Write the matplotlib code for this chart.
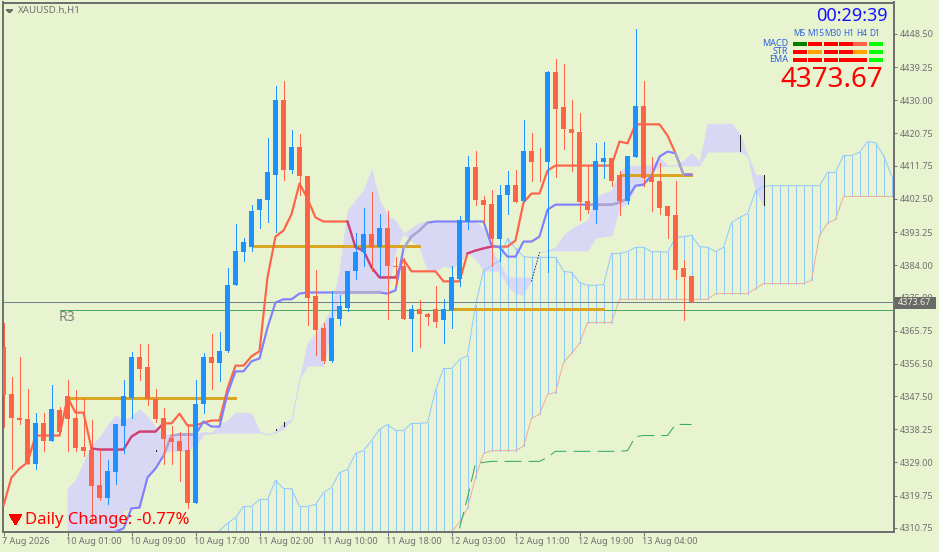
import numpy as np
import matplotlib
matplotlib.use('Agg')
import matplotlib.pyplot as plt
from matplotlib.patches import Rectangle, Polygon
from matplotlib.transforms import ScaledTranslation

W, H = 939, 552

# candles, one hour each
opens = [4361.3, 4348.2, 4341.5, 4341.0, 4328.7, 4340.1, 4335.1, 4343.5, 4347.4, 4341.3,
         4333.2, 4332.6, 4322.6, 4319.2, 4326.2, 4339.3, 4347.1, 4358.3, 4355.5, 4346.6,
         4341.3, 4335.7, 4334.9, 4332.6, 4317.6, 4345.2, 4358.3, 4356.6, 4360.0, 4378.4,
         4387.8, 4389.2, 4399.3, 4402.3, 4409.3, 4430.0, 4410.7, 4417.1, 4409.0, 4375.3,
         4366.4, 4357.4, 4368.9, 4372.2, 4382.3, 4387.6, 4392.6, 4389.2, 4394.3, 4383.9,
         4383.7, 4368.9, 4371.7, 4370.5, 4371.9, 4368.6, 4371.4, 4380.3, 4396.2, 4411.5,
         4402.3, 4401.2, 4391.2, 4403.5, 4406.5, 4401.8, 4416.0, 4412.9, 4412.7, 4437.8,
         4428.0, 4422.1, 4421.3, 4401.8, 4399.3, 4412.9, 4413.8, 4409.3, 4401.8, 4414.3,
         4428.3, 4408.5, 4407.4, 4400.4, 4397.9, 4383.1, 4381.1]
closes = [4347.9, 4341.3, 4340.7, 4328.7, 4340.1, 4335.1, 4343.8, 4337.4, 4341.0, 4332.9,
          4332.1, 4322.3, 4319.2, 4326.5, 4339.6, 4347.4, 4358.3, 4355.2, 4346.6, 4341.0,
          4335.4, 4334.6, 4332.3, 4317.6, 4345.4, 4358.3, 4356.6, 4360.2, 4378.6, 4388.1,
          4390.6, 4399.0, 4402.6, 4409.9, 4430.0, 4410.7, 4417.1, 4408.8, 4375.0, 4365.8,
          4357.4, 4369.2, 4372.5, 4382.5, 4387.8, 4392.6, 4389.2, 4394.3, 4383.7, 4383.4,
          4368.9, 4371.7, 4370.3, 4369.7, 4368.3, 4371.7, 4380.6, 4396.5, 4411.5, 4402.1,
          4400.9, 4391.2, 4403.5, 4406.5, 4401.5, 4416.0, 4412.7, 4412.7, 4437.8, 4427.7,
          4421.9, 4421.0, 4401.5, 4399.3, 4413.2, 4413.8, 4407.6, 4401.8, 4414.6, 4428.3,
          4408.2, 4407.1, 4400.1, 4397.6, 4382.8, 4380.6, 4373.67]
highs = [4368.0, 4352.7, 4358.3, 4349.6, 4342.9, 4342.9, 4350.5, 4344.6, 4352.1, 4349.1,
         4347.1, 4340.7, 4332.6, 4329.8, 4339.6, 4352.1, 4359.7, 4361.9, 4361.9, 4349.6,
         4344.1, 4339.3, 4337.4, 4339.6, 4351.9, 4359.4, 4364.7, 4365.5, 4383.1, 4395.4,
         4391.7, 4400.7, 4402.6, 4419.4, 4434.1, 4435.3, 4421.6, 4420.5, 4409.0, 4382.8,
         4367.8, 4376.7, 4375.6, 4382.5, 4393.1, 4400.1, 4404.3, 4398.2, 4399.0, 4386.4,
         4385.9, 4372.8, 4374.2, 4370.8, 4378.1, 4374.7, 4383.7, 4397.6, 4414.6, 4416.0,
         4403.2, 4404.9, 4406.5, 4410.2, 4410.7, 4424.4, 4421.0, 4416.8, 4438.3, 4441.4,
         4440.0, 4430.2, 4426.6, 4411.8, 4418.0, 4418.5, 4413.8, 4410.2, 4414.6, 4450.0,
         4435.5, 4414.1, 4412.4, 4400.4, 4407.4, 4385.6, 4381.1]
lows = [4338.8, 4327.3, 4339.6, 4328.7, 4327.3, 4332.3, 4335.1, 4337.1, 4332.3, 4332.3,
        4330.7, 4312.8, 4318.4, 4317.3, 4322.9, 4331.5, 4341.5, 4351.9, 4344.9, 4340.4,
        4328.7, 4328.7, 4323.7, 4316.4, 4317.6, 4342.9, 4349.6, 4351.6, 4359.7, 4378.4,
        4385.3, 4388.1, 4394.3, 4396.2, 4393.4, 4407.9, 4409.6, 4403.5, 4367.2, 4359.1,
        4356.6, 4356.9, 4367.2, 4371.1, 4380.3, 4383.7, 4382.5, 4381.1, 4368.9, 4378.4,
        4368.9, 4360.0, 4361.1, 4367.2, 4366.9, 4362.2, 4366.4, 4378.1, 4394.0, 4400.7,
        4396.2, 4383.9, 4385.1, 4398.2, 4401.5, 4401.8, 4407.4, 4407.6, 4382.0, 4408.5,
        4416.3, 4410.4, 4396.5, 4398.7, 4395.9, 4408.2, 4406.2, 4397.9, 4401.2, 4414.3,
        4406.0, 4399.0, 4398.4, 4391.5, 4380.3, 4368.6, 4373.67]

# fast and slow lines
tenkan = [4317.0, 4324.8, 4327.3, 4329.0, 4336.5, 4336.5, 4336.5, 4336.5, 4347.1, 4342.9,
          4342.9, 4332.9, 4332.6, 4332.6, 4332.6, 4332.6, 4336.2, 4337.6, 4337.6, 4337.6,
          4339.9, 4339.9, 4342.6, 4339.3, 4339.3, 4340.1, 4340.7, 4340.7, 4349.6, 4356.0,
          4356.0, 4358.6, 4360.0, 4380.6, 4392.0, 4393.7, 4398.2, 4406.8, 4402.6, 4397.3,
          4396.2, 4396.2, 4396.2, 4396.2, 4389.0, 4388.1, 4383.4, 4380.6, 4380.6, 4380.6,
          4385.6, 4382.3, 4382.3, 4382.3, 4382.3, 4379.5, 4379.5, 4379.5, 4387.3, 4388.1,
          4388.7, 4389.2, 4389.2, 4389.2, 4390.9, 4401.5, 4404.0, 4404.0, 4410.4, 4411.8,
          4411.8, 4411.8, 4411.8, 4411.8, 4411.8, 4411.8, 4411.8, 4418.5, 4418.0, 4423.3,
          4423.3, 4423.3, 4423.3, 4420.2, 4415.2, 4409.3, 4409.3]
kijun_start = 14
kijun = [4309.7, 4310.6, 4316.2, 4316.4, 4324.8, 4327.3, 4330.9, 4336.5, 4336.8, 4336.8,
         4336.8, 4340.4, 4339.0, 4339.0, 4348.2, 4354.4, 4354.4, 4357.2, 4358.0, 4366.6,
         4373.6, 4374.5, 4374.5, 4376.1, 4376.4, 4376.4, 4376.4, 4376.4, 4376.4, 4376.4,
         4376.4, 4376.4, 4376.4, 4376.4, 4376.1, 4377.0, 4388.7, 4392.0, 4393.7, 4395.9,
         4396.2, 4396.2, 4396.2, 4396.2, 4396.2, 4396.2, 4396.2, 4389.5, 4389.0, 4386.4,
         4386.4, 4390.6, 4390.6, 4392.0, 4399.5, 4400.9, 4400.9, 4400.9, 4400.9, 4400.9,
         4400.9, 4400.9, 4400.9, 4401.5, 4402.6, 4406.2, 4406.5, 4409.0, 4414.3, 4415.7,
         4415.2, 4409.3, 4409.3]

# lavender cloud
cloud_start = 8
cloud_top = [4321.7, 4324.0, 4329.0, 4333.7, 4336.0, 4339.3, 4342.1, 4340.7, 4341.8, 4343.8,
             4341.8, 4338.8, 4336.8, 4336.8, 4336.8, 4336.8, 4336.8, 4337.6, 4337.3, 4339.6,
             4340.7, 4342.9, 4342.9, 4342.6, 4337.6, 4336.8, 4337.6, 4340.1, 4341.0, 4352.4,
             4362.2, 4365.0, 4368.0, 4371.9, 4382.5, 4399.3, 4402.1, 4404.9, 4410.7, 4402.1,
             4397.9, 4396.5, 4392.9, 4394.3, 4395.9, 4396.2, 4396.2, 4396.2, 4396.2, 4396.2,
             4396.2, 4396.2, 4394.2, 4388.1, 4384.5, 4380.6, 4380.6, 4380.6, 4380.6, 4387.6,
             4388.1, 4389.0, 4392.3, 4394.2, 4395.4, 4396.5, 4402.9, 4404.0, 4404.8, 4409.9,
             4411.8, 4411.8, 4411.8, 4411.8, 4414.1, 4411.8, 4411.8, 4413.2, 4415.2, 4412.9,
             4423.5, 4423.5, 4423.5, 4423.5, 4420.7, 4414.6, 4409.3, 4409.0]
cloud_bot = [4305.0, 4305.0, 4305.0, 4305.0, 4305.0, 4305.0, 4305.0, 4315.6, 4316.2, 4316.4,
             4324.8, 4327.6, 4331.8, 4332.3, 4332.3, 4332.3, 4333.7, 4336.8, 4337.1, 4337.3,
             4337.3, 4337.3, 4337.3, 4337.3, 4337.3, 4336.8, 4337.3, 4338.5, 4340.7, 4352.4,
             4356.0, 4356.0, 4356.0, 4367.2, 4375.6, 4376.4, 4376.4, 4376.4, 4376.4, 4376.4,
             4377.0, 4388.1, 4392.9, 4390.9, 4389.0, 4382.5, 4382.5, 4383.9, 4383.1, 4384.8,
             4387.6, 4385.9, 4382.5, 4382.5, 4382.5, 4378.4, 4376.1, 4375.8, 4380.6, 4387.6,
             4388.1, 4388.1, 4388.1, 4388.1, 4388.1, 4388.1, 4391.7, 4392.0, 4392.3, 4400.1,
             4401.5, 4406.0, 4406.2, 4410.4, 4411.5, 4411.8, 4411.8, 4411.8, 4411.8, 4411.8,
             4415.7, 4415.7, 4415.7, 4415.7, 4415.7, 4414.6, 4404.8, 4400.7]

# hatched cloud, higher timeframe
upper_start = 27
upper = [4310.0, 4312.0, 4313.6, 4316.7, 4316.7, 4318.7, 4318.7, 4324.0, 4321.7, 4321.7,
         4316.7, 4316.7, 4317.3, 4320.6, 4322.0, 4326.2, 4327.0, 4331.5, 4332.3, 4335.1,
         4338.2, 4339.6, 4337.9, 4337.9, 4339.9, 4339.9, 4340.1, 4349.1, 4355.2, 4355.2,
         4357.7, 4358.8, 4372.8, 4382.5, 4383.9, 4385.3, 4391.5, 4388.7, 4386.4, 4386.2,
         4386.2, 4386.2, 4386.2, 4382.3, 4382.0, 4379.2, 4378.4, 4378.4, 4378.6, 4387.3,
         4387.3, 4387.8, 4389.0, 4389.0, 4387.8, 4387.8, 4387.6, 4391.7, 4392.0, 4392.3,
         4389.2, 4389.0, 4387.8, 4389.0, 4395.9, 4397.3, 4398.4, 4404.6, 4406.0, 4406.2,
         4406.2, 4406.2, 4406.2, 4406.2, 4406.2, 4406.2, 4409.9, 4409.9, 4414.6, 4414.6,
         4415.5, 4418.5, 4418.2, 4414.6, 4409.0]
lower_start = 56
lower = [4309.7, 4312.3, 4316.2, 4324.8, 4331.5, 4332.3, 4332.3, 4332.3, 4332.3, 4333.5,
         4341.3, 4342.4, 4348.0, 4348.5, 4356.9, 4359.4, 4362.2, 4368.0, 4368.0, 4368.0,
         4368.0, 4374.5, 4374.5, 4374.5, 4374.5, 4374.5, 4374.5, 4374.5, 4374.5, 4374.5,
         4374.5, 4374.5, 4374.5, 4376.1, 4376.1, 4376.1, 4376.1, 4376.1, 4377.5, 4378.9,
         4378.9, 4378.9, 4378.9, 4378.9, 4378.9, 4379.8, 4392.3, 4395.7, 4396.8, 4403.2,
         4403.2, 4403.2, 4403.2, 4403.2, 4403.2, 4403.2]

# dashed green line
lagging_start = 57
lagging = [4310.6, 4319.2, 4328.7, 4329.0, 4329.3, 4329.3, 4329.3, 4329.3, 4329.3, 4329.3,
           4329.3, 4330.4, 4332.1, 4332.1, 4332.1, 4332.1, 4332.1, 4332.1, 4332.1, 4332.1,
           4332.1, 4332.3, 4336.2, 4336.5, 4336.5, 4336.5, 4336.5, 4339.6, 4339.6, 4339.6]

# gold levels: first bar, last bar, price
level_from = [8, 31, 56, 77]
level_to = [29, 52, 75, 86]
level_price = [4347.1, 4389.5, 4371.8, 4409.2]

# short dark marks: bar, price from, price to
mark_bar = [19, 20, 34, 35, 92, 95]
mark_lo = [4332.1, 4336.7, 4338.0, 4339.3, 4416.0, 4400.7]
mark_hi = [4332.4, 4337.0, 4338.3, 4340.4, 4420.2, 4409.3]
dotted_bar = [66, 67]
dotted_price = [4379.5, 4387.6]

current_price = 4373.67
r3_price = 4371.6

y_ticks = [4448.50, 4439.25, 4430.00, 4420.75, 4411.75, 4402.50, 4393.25, 4384.00,
           4375.00, 4365.75, 4356.50, 4347.50, 4338.25, 4329.00, 4319.75, 4310.75]
x_tick_bars = [0, 8, 16, 24, 32, 40, 48, 56, 64, 72, 80]
x_tick_labels = ['7 Aug 2026', '10 Aug 01:00', '10 Aug 09:00', '10 Aug 17:00', '11 Aug 02:00',
                 '11 Aug 10:00', '11 Aug 18:00', '12 Aug 03:00', '12 Aug 11:00', '12 Aug 19:00',
                 '13 Aug 04:00']

# trend panel
panel_cols = ['M5', 'M15', 'M30', 'H1', 'H4', 'D1']
panel_rows = ['MACD', 'STR', 'EMA']
panel_colors = [['#008000', '#ff0000', '#ff0000', '#ff0000', '#ff6347', '#00ff00'],
                ['#ff0000', '#ffa500', '#ff0000', '#ff0000', '#ffa500', '#00ff00'],
                ['#ff0000', '#ff0000', '#ff0000', '#ff0000', '#ff0000', '#00ff00']]

BG = '#e8f3d0'
GREY = '#707070'
BLUE = '#1e90ff'
RED = '#ff6347'
LAV = '#d8d8f5'

plt.rcParams['font.family'] = ['Noto Sans', 'DejaVu Sans']
plt.rcParams['lines.antialiased'] = False
plt.rcParams['patch.antialiased'] = False

fig = plt.figure(figsize=(W / 100, H / 100), dpi=100, facecolor=BG)
ax = fig.add_axes([3 / W, (H - 531.5) / H, 890.5 / W, 529 / H], facecolor=BG)
ax.set_xlim(-0.0625, 111.25)
ax.set_ylim(4309.74, 4457.28)


def bars(start, values):
    return np.arange(start, start + len(values))


# cloud
x = bars(cloud_start, cloud_top)
ax.fill_between(x, cloud_bot, cloud_top, color=LAV, lw=0.5, zorder=1, antialiased=True)

# hatched cloud
x = bars(upper_start, upper)
bottoms = np.full(len(upper), ax.get_ylim()[0])
bottoms[lower_start - upper_start:] = lower
ax.vlines(x, bottoms, upper, color='#90c8ff', lw=0.5, zorder=2)
ax.plot(x, upper, color='#90c8ff', lw=0.7, zorder=2, antialiased=True)
ax.plot(bars(lower_start, lower), lower, color='#eeac98', lw=0.7, zorder=2, antialiased=True)

# dashed line and levels
ax.plot(bars(lagging_start, lagging), lagging, color='#30a860', lw=0.72,
        linestyle=(0, (17, 7)), zorder=3, antialiased=True)
ax.axhline(current_price, color='#708090', lw=0.5, zorder=3)
ax.plot([7, 112], [r3_price, r3_price], color='#4aa860', lw=0.5, zorder=3)
ax.hlines(level_price, level_from, level_to, color='#daa520', lw=2.0, zorder=3)

# tenkan and kijun, the parts over the cloud come out blended in the original
x = np.arange(len(tenkan))
ax.plot(x, tenkan, color=RED, lw=1.55, zorder=4, antialiased=True)
for a, b in [(11, 20), (43, 49), (58, 61)]:
    ax.plot(x[a:b + 1], tenkan[a:b + 1], color='#c84080', lw=1.55, zorder=4, antialiased=True)
kx = bars(kijun_start, kijun)
ax.plot(kx, kijun, color='#8080ff', lw=1.55, zorder=4, antialiased=True)
for a, b in [(20, 24), (41, 47), (50, 53), (73, 78), (84, 85)]:
    s = a - kijun_start
    ax.plot(kx[s:b - kijun_start + 1], kijun[s:b - kijun_start + 1], color='#b0a8cc', lw=1.55, zorder=4,
            antialiased=True)

ax.vlines(mark_bar, mark_lo, mark_hi, color='#202020', lw=0.5, zorder=4)
ax.plot(dotted_bar, dotted_price, color='black', lw=0.6, linestyle=(0, (1.5, 2)), zorder=4, antialiased=True)

# candles
x = np.arange(len(opens))
up = np.array(closes) >= np.array(opens)
colors = [BLUE if u else RED for u in up]
ax.vlines(x, lows, highs, color=colors, lw=0.5, zorder=5)
tops = np.maximum(opens, closes)
bots = np.minimum(opens, closes)
ax.bar(x, tops - bots, bottom=bots, width=0.66, color=colors, lw=0, zorder=6)

# axes
for s in ax.spines.values():
    s.set_color(GREY)
    s.set_linewidth(1.2)
ax.yaxis.tick_right()
ax.set_yticks(y_ticks)
ax.set_yticklabels(['%.2f' % v for v in y_ticks], fontsize=6.5, color=GREY)
ax.set_xticks(x_tick_bars)
ax.set_xticklabels(x_tick_labels, fontsize=6.5, color=GREY, ha='left')
ax.tick_params(axis='y', length=2.5, width=0.7, color=GREY, pad=2)
ax.tick_params(axis='x', length=3, width=0.7, color=GREY, pad=0.8)
shift = ScaledTranslation(-1.5 / 100, 0, fig.dpi_scale_trans)
for label in ax.get_xticklabels():
    label.set_transform(label.get_transform() + shift)


def fx(px):
    return px / W


def fy(py):
    return 1 - py / H


# price tag on the axis
fig.add_artist(Rectangle((fx(895), fy(308.5)), 41 / W, 11.5 / H, transform=fig.transFigure,
                         facecolor='#696969', edgecolor='none', zorder=10))
fig.text(fx(898), fy(302.8), '%.2f' % current_price, fontsize=6.5, color=BG, va='center', zorder=11)

# symbol caption
fig.add_artist(Polygon([(fx(6), fy(9)), (fx(13), fy(9)), (fx(9.5), fy(13))], transform=fig.transFigure,
                       facecolor=GREY, edgecolor='none'))
fig.text(fx(18), fy(10.5), 'XAUUSD.h,H1', fontsize=7, color=GREY, va='center')

# clock and panel
fig.text(fx(888), fy(16), '00:29:39', fontsize=13, color='#1414ff', ha='right', va='center')
col_x = [799.5, 815.5, 833, 849, 861.5, 875]
bar_x = [793, 808, 824, 839, 853, 869]
row_y = [42, 50, 58]
text_y = [43.5, 51.5, 59.5]
for name, cx in zip(panel_cols, col_x):
    fig.text(fx(cx), fy(33), name, fontsize=6, color='#3060e0', ha='center', va='center')
for r, name in enumerate(panel_rows):
    fig.text(fx(788.5), fy(text_y[r]), name, fontsize=6.5, color='#3060e0', ha='right', va='center')
    for c in range(len(panel_cols)):
        fig.add_artist(Rectangle((fx(bar_x[c]), fy(row_y[r] + 4)), 13.5 / W, 4 / H, transform=fig.transFigure,
                                 facecolor=panel_colors[r][c], edgecolor='none'))
fig.text(fx(883), fy(80), '%.2f' % current_price, fontsize=20, color='#ff0000', ha='right', va='center')

# daily change
fig.add_artist(Polygon([(fx(9), fy(514)), (fx(22), fy(514)), (fx(15.5), fy(525))], transform=fig.transFigure,
                       facecolor='#ff0000', edgecolor='none', zorder=8))
fig.text(fx(25), fy(520.5), 'Daily Change: -0.77%', fontsize=12, color='#ff0000', va='center', zorder=8)

ax.text(6.9, 4457.84 - 0.2789 * 317, 'R3', fontsize=10, color='#808080', va='center', zorder=3)

fig.savefig('out.png', dpi=100, facecolor=BG)
